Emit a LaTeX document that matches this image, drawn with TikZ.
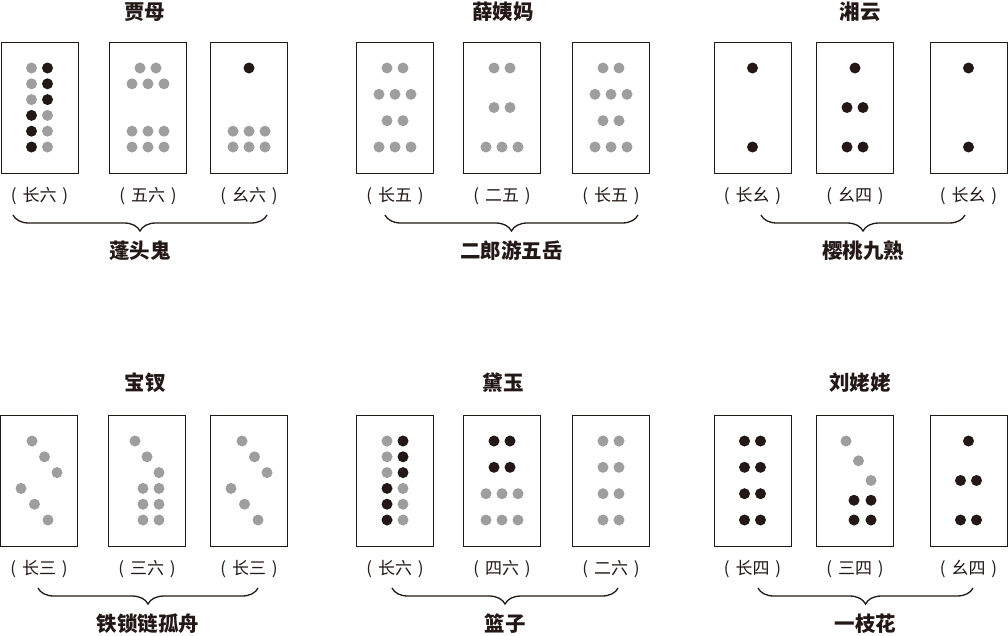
\documentclass[tikz,border=0pt]{standalone}
\usepackage{fontspec}
\newfontfamily\cjk{Noto Sans CJK SC}
\usetikzlibrary{calc,decorations.pathreplacing}
\definecolor{pipblack}{HTML}{231815}
\definecolor{pipgray}{HTML}{9E9E9E}
\tikzset{
    tile/.style = {draw=pipblack, rectangle, line width=0.8pt,
        minimum width=77pt, minimum height=131pt, inner sep=0pt},
    tag/.style = {font=\cjk\fontsize{17pt}{17pt}\selectfont, text=pipblack},
    title/.style = {font=\cjk\bfseries\fontsize{20.5pt}{20.5pt}\selectfont, text=pipblack},
    curly/.style = {draw=pipblack, line width=1.3pt, decorate,
        decoration={brace, mirror, amplitude=16pt}},
    blk/.style = {fill=pipblack},
    gry/.style = {fill=pipgray}
}
\newcommand{\pips}[3]{%
    \foreach \px/\py in {#3} {\fill[#2] (#1) ++(\px,\py) circle (5.5pt);}
}

\begin{document}
\begin{tikzpicture}[x=1pt, y=-1pt, node distance=100pt]
    \useasboundingbox (0,0) rectangle (1008,635);
    \foreach \g/\cx/\cy/\da/\db/\tx/\ty/\ttl/\la/\lb/\lc/\bl/\br/\by/\nm in {
        1/39.5/107.5/108.5/101/144.5/12/贾母/长六/五六/幺六/13/267/215/蓬头鬼,
        2/395/107.5/107/109/503/12/薛姨妈/长五/二五/长五/385/638/215/二郎游五岳,
        3/752.5/107.5/102.5/113.5/860/12/湘云/长幺/幺四/长幺/761/965/215/樱桃九熟,
        4/39/480.5/108/102/145/383/宝钗/长三/三六/长三/38/258/588/铁锁链孤舟,
        5/395/480.5/107/109/503/383/黛玉/长六/四六/二六/392/618/588/篮子,
        6/752.5/480.5/102.5/113.5/860/383/刘姥姥/长四/三四/幺四/758/973/588/一枝花}{
        \node [title, name=h\g] at (\tx,\ty) {\ttl};
        \node [tile, name=t\g1] at (\cx,\cy) {};
        \node [tile, right of=t\g1, node distance=\da pt, name=t\g2] {};
        \node [tile, right of=t\g2, node distance=\db pt, name=t\g3] {};
        \foreach \k/\lab in {1/\la,2/\lb,3/\lc}{
            \node [tag, below of=t\g\k, node distance=88.5pt, name=l\g\k] {(\hspace{0.35em}\lab\hspace{0.35em})};
        }
        \coordinate (bl\g) at (\bl,\by);
        \coordinate (br\g) at (\br,\by);
        \draw [curly] (bl\g) -- (br\g);
        \node [title, yshift=-36pt, name=n\g] at ($(bl\g)!0.5!(br\g)$) {\nm};
    }
    % pips
    \foreach \t in {t11,t51}{
        \pips{\t}{gry}{-8/-39.5,-8/-23.7,-8/-7.9,8/7.9,8/23.7,8/39.5}
        \pips{\t}{blk}{8/-39.5,8/-23.7,8/-7.9,-8/7.9,-8/23.7,-8/39.5}
    }
    \pips{t12}{gry}{-8/-39.5,8/-39.5,-16/-23.7,0/-23.7,16/-23.7,-16/23.7,0/23.7,16/23.7,-16/39.5,0/39.5,16/39.5}
    \pips{t13}{blk}{0/-39.5}
    \pips{t13}{gry}{-16/23.7,0/23.7,16/23.7,-16/39.5,0/39.5,16/39.5}
    \foreach \t in {t21,t23}{
        \pips{\t}{gry}{-8/-39.5,8/-39.5,-16/-13.2,0/-13.2,16/-13.2,-8/13.2,8/13.2,-16/39.5,0/39.5,16/39.5}
    }
    \pips{t22}{gry}{-8/-39.5,8/-39.5,-8/0,8/0,-16/39.5,0/39.5,16/39.5}
    \foreach \t in {t31,t33}{
        \pips{\t}{blk}{0/-39.5,0/39.5}
    }
    \foreach \t in {t32,t63}{
        \pips{\t}{blk}{0/-39.5,-8/0,8/0,-8/39.5,8/39.5}
    }
    \foreach \t in {t41,t43}{
        \pips{\t}{gry}{-7/-39.5,5.5/-23.7,18/-7.9,-18/7.9,-4.5/23.7,9/39.5}
    }
    \pips{t42}{gry}{-12/-39.5,0/-23.7,12/-7.9,-4/7.9,12/7.9,-4/23.7,12/23.7,-4/39.5,12/39.5}
    \pips{t52}{blk}{-8/-39.5,8/-39.5,-8/-13.2,8/-13.2}
    \pips{t52}{gry}{-16/13.2,0/13.2,16/13.2,-16/39.5,0/39.5,16/39.5}
    \pips{t53}{gry}{-8/-39.5,8/-39.5,-8/-13.2,8/-13.2,-8/13.2,8/13.2,-8/39.5,8/39.5}
    \pips{t61}{blk}{-8/-39.5,8/-39.5,-8/-13.2,8/-13.2,-8/13.2,8/13.2,-8/39.5,8/39.5}
    \pips{t62}{gry}{-9/-39.5,3.5/-19.75,16/0}
    \pips{t62}{blk}{-1/19.75,16/19.75,-1/39.5,16/39.5}
\end{tikzpicture}
\end{document}
